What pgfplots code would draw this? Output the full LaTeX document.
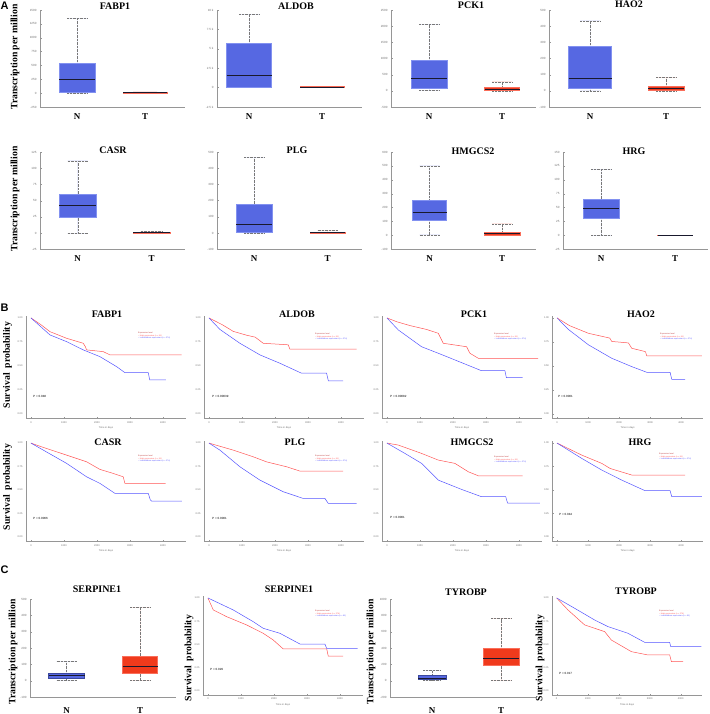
\documentclass[border=0pt]{standalone}
\usepackage{fontspec}
\setmainfont{Liberation Serif}
\setsansfont{Liberation Sans}
\usepackage{pgfplots}
\pgfplotsset{compat=1.18}
\usepgfplotslibrary{statistics}
\definecolor{boxblue}{RGB}{86,104,226}
\definecolor{boxblueedge}{RGB}{130,145,240}
\definecolor{boxred}{RGB}{240,58,28}
\definecolor{boxrededge}{RGB}{250,110,90}
\definecolor{medcol}{RGB}{25,25,45}
\definecolor{whisk}{RGB}{120,120,120}
\definecolor{axgray}{RGB}{150,150,150}
\definecolor{tickgray}{RGB}{110,110,110}
\definecolor{kmred}{RGB}{255,85,85}
\definecolor{kmblue}{RGB}{85,85,255}
\pgfplotsset{
  bp/.style={scale only axis, clip=false,
    axis x line*=bottom, axis y line*=left,
    axis line style={draw=axgray, line width=0.5pt},
    xmin=0, height=97pt, scaled y ticks=false, scaled x ticks=false,
    major tick length=1.5pt,
    ytick style={draw=axgray, line width=0.3pt},
    xtick style={draw=none},
    y tick label style={font=\sffamily\fontsize{3}{3}\selectfont, text=tickgray},
    x tick label style={font=\rmfamily\bfseries\fontsize{9}{9}\selectfont, yshift=-3pt},
    boxplot/draw direction=y,
    boxplot/every median/.style={draw=medcol, line width=0.9pt},
    boxplot/every whisker/.style={draw=whisk, line width=0.4pt, densely dotted},
  },
  bN/.style={fill=boxblue, draw=boxblueedge, line width=0.4pt},
  bT/.style={fill=boxred, draw=boxrededge, line width=0.4pt},
  km/.style={scale only axis, clip=false,
    axis x line*=bottom, axis y line*=left,
    axis line style={draw=axgray, line width=0.4pt},
    xmin=-150, xmax=4700, ymin=-0.04, ymax=1.02,
    scaled y ticks=false, scaled x ticks=false,
    xtick={0,1000,2000,3000,4000}, xticklabels={0,1000,2000,3000,4000},
    ytick={0,0.25,0.5,0.75,1}, yticklabels={0.00,0.25,0.50,0.75,1.00},
    tick label style={font=\sffamily\fontsize{2.5}{2.5}\selectfont, text=tickgray},
    major tick length=1.2pt, tick style={draw=axgray, line width=0.3pt},
    xlabel={Time in days},
    xlabel style={font=\sffamily\fontsize{2.5}{2.5}\selectfont, text=tickgray, yshift=3pt},
  },
  kr/.style={draw=kmred, line width=0.5pt, mark=none},
  kb/.style={draw=kmblue, line width=0.5pt, mark=none},
}
\newcommand\ttl[3]{\node[font=\rmfamily\bfseries\fontsize{10}{10}\selectfont, inner sep=0] at (#1pt,-#2pt) {#3};}
\newcommand\pval[3]{\node[anchor=west, font=\sffamily\fontsize{3}{3}\selectfont, inner sep=0] at (#1pt,-#2pt) {\textit{P} = #3};}
\newcommand\kmleg[4]{\node[anchor=north west, font=\sffamily\fontsize{2}{2.6}\selectfont, align=left, inner sep=0] at (#1pt,-#2pt) {\textcolor{kmred!75!black}{Expression level}\\ \textcolor{kmred}{-- High expression (n = #3)}\\ \textcolor{kmblue}{-- Low/Medium expression (n = #4)}};}
\newcommand\ylab[3]{\node[rotate=90, font=\rmfamily\bfseries\fontsize{9.7}{9.7}\selectfont, inner sep=0] at (#1pt,-#2pt) {#3};}
\begin{document}
\begin{tikzpicture}
\useasboundingbox (0,0) rectangle (709pt,-714pt);
% ================= Panel A, row 1 =================
\begin{axis}[bp, at={(40pt,-107pt)}, anchor=south west, width=145pt, xmax=145,
  ymin=-250, ymax=1500, ytick={-250,0,250,500,750,1000,1250,1500},
  yticklabels={-250,0,250,500,750,1000,1250,1500}, xtick={37,105}, xticklabels={N,T}]
\addplot[bN, boxplot prepared={lower whisker=0, lower quartile=15, median=239, upper quartile=543, upper whisker=1352, draw position=37, box extend=36, whisker extend=20}] coordinates {};
\addplot[bT, boxplot prepared={lower whisker=0, lower quartile=2, median=8, upper quartile=14, upper whisker=25, draw position=105, box extend=44, whisker extend=24}] coordinates {};
\end{axis}
\begin{axis}[bp, at={(217pt,-107pt)}, anchor=south west, width=145pt, xmax=145,
  ymin=-2500, ymax=10000, ytick={-2500,0,2500,5000,7500,10000},
  yticklabels={-2.5 k,0,2.5 k,5 k,7.5 k,10 k}, xtick={32,105}, xticklabels={N,T}]
\addplot[bN, boxplot prepared={lower whisker=0, lower quartile=60, median=1624, upper quartile=5709, upper whisker=9446, draw position=32, box extend=45, whisker extend=20}] coordinates {};
\addplot[bT, boxplot prepared={lower whisker=0, lower quartile=30, median=80, upper quartile=130, upper whisker=200, draw position=105, box extend=44, whisker extend=22}] coordinates {};
\end{axis}
\begin{axis}[bp, at={(391pt,-107pt)}, anchor=south west, width=145pt, xmax=145,
  ymin=-500, ymax=2500, ytick={-500,0,500,1000,1500,2000,2500},
  yticklabels={-500,0,500,1000,1500,2000,2500}, xtick={38,111}, xticklabels={N,T}]
\addplot[bN, boxplot prepared={lower whisker=10, lower quartile=77, median=386, upper quartile=952, upper whisker=2066, draw position=38, box extend=36, whisker extend=20}] coordinates {};
\addplot[bT, boxplot prepared={lower whisker=0, lower quartile=5, median=46, upper quartile=108, upper whisker=281, draw position=111, box extend=35, whisker extend=20}] coordinates {};
\end{axis}
\begin{axis}[bp, at={(549pt,-107pt)}, anchor=south west, width=152pt, xmax=152,
  ymin=-100, ymax=500, ytick={-100,0,100,200,300,400,500},
  yticklabels={-100,0,100,200,300,400,500}, xtick={41,117}, xticklabels={N,T}]
\addplot[bN, boxplot prepared={lower whisker=0, lower quartile=15, median=77, upper quartile=277, upper whisker=432, draw position=41, box extend=43, whisker extend=20}] coordinates {};
\addplot[bT, boxplot prepared={lower whisker=0, lower quartile=5, median=15, upper quartile=30, upper whisker=83, draw position=117, box extend=36, whisker extend=20}] coordinates {};
\end{axis}
% ================= Panel A, row 2 =================
\begin{axis}[bp, at={(40pt,-249.3pt)}, anchor=south west, width=145pt, xmax=145, height=97.3pt,
  ymin=-25, ymax=125, ytick={-25,0,25,50,75,100,125},
  yticklabels={-25,0,25,50,75,100,125}, xtick={37.7,111.7}, xticklabels={N,T}]
\addplot[bN, boxplot prepared={lower whisker=0, lower quartile=24, median=41.9, upper quartile=60.5, upper whisker=111.5, draw position=37.7, box extend=37, whisker extend=20}] coordinates {};
\addplot[bT, boxplot prepared={lower whisker=0, lower quartile=0.3, median=1, upper quartile=1.6, upper whisker=3, draw position=111.7, box extend=37, whisker extend=22}] coordinates {};
\end{axis}
\begin{axis}[bp, at={(217pt,-249.3pt)}, anchor=south west, width=145pt, xmax=145, height=97.3pt,
  ymin=-100, ymax=500, ytick={-100,0,100,200,300,400,500},
  yticklabels={-100,0,100,200,300,400,500}, xtick={37,110.5}, xticklabels={N,T}]
\addplot[bN, boxplot prepared={lower whisker=0, lower quartile=4, median=54, upper quartile=181, upper whisker=469, draw position=37, box extend=36, whisker extend=20}] coordinates {};
\addplot[bT, boxplot prepared={lower whisker=0, lower quartile=0.5, median=2, upper quartile=5, upper whisker=17, draw position=110.5, box extend=35, whisker extend=20}] coordinates {};
\end{axis}
\begin{axis}[bp, at={(391pt,-249.3pt)}, anchor=south west, width=145pt, xmax=145, height=97.3pt,
  ymin=-100, ymax=600, ytick={-100,0,100,200,300,400,500,600},
  yticklabels={-100,0,100,200,300,400,500,600}, xtick={38.5,111}, xticklabels={N,T}]
\addplot[bN, boxplot prepared={lower whisker=5, lower quartile=108, median=168, upper quartile=252, upper whisker=500, draw position=38.5, box extend=34, whisker extend=20}] coordinates {};
\addplot[bT, boxplot prepared={lower whisker=0, lower quartile=1, median=12, upper quartile=22, upper whisker=84, draw position=111, box extend=36, whisker extend=20}] coordinates {};
\end{axis}
\begin{axis}[bp, at={(563pt,-249.3pt)}, anchor=south west, width=145pt, xmax=145, height=97.3pt,
  ymin=-25, ymax=150, ytick={-25,0,25,50,75,100,125,150},
  yticklabels={-25,0,25,50,75,100,125,150}, xtick={38,112}, xticklabels={N,T}]
\addplot[bN, boxplot prepared={lower whisker=0, lower quartile=30.6, median=48, upper quartile=66, upper whisker=119.4, draw position=38, box extend=36, whisker extend=20}] coordinates {};
\addplot[bT, boxplot prepared={lower whisker=0, lower quartile=0, median=0.1, upper quartile=0.2, upper whisker=0.3, draw position=112, box extend=35, whisker extend=20}] coordinates {};
\end{axis}
% ================= Panel B, row 1 =================
\begin{axis}[km, at={(26pt,-417.8pt)}, anchor=south west, width=160pt, height=101.8pt]
\addplot[kr] coordinates {(0,1) (300,0.93) (576,0.857) (1081,0.788) (1586,0.736) (1650,0.70) (1687,0.667) (2192,0.649) (2394,0.615) (4566,0.615)};
\addplot[kb] coordinates {(0,1) (576,0.823) (1081,0.753) (1586,0.667) (2091,0.597) (2596,0.493) (2848,0.43) (3556,0.43) (3600,0.354) (4091,0.354)};
\end{axis}
\begin{axis}[km, at={(204pt,-417.8pt)}, anchor=south west, width=160pt, height=101.8pt]
\addplot[kr] coordinates {(0,1) (400,0.93) (737,0.86) (1141,0.82) (1400,0.80) (1646,0.736) (2404,0.72) (2454,0.674) (4475,0.674)};
\addplot[kb] coordinates {(0,1) (333,0.88) (939,0.736) (1545,0.615) (2151,0.528) (2808,0.424) (3566,0.424) (3620,0.344) (4070,0.344)};
\end{axis}
\begin{axis}[km, at={(382pt,-417.8pt)}, anchor=south west, width=160pt, height=101.8pt]
\addplot[kr] coordinates {(0,1) (300,0.96) (700,0.92) (1200,0.88) (1556,0.84) (1707,0.736) (2414,0.70) (2515,0.632) (2768,0.58) (4586,0.58)};
\addplot[kb] coordinates {(0,1) (343,0.875) (1050,0.70) (1556,0.632) (2060,0.5625) (2869,0.45) (3576,0.45) (3620,0.378) (4111,0.378)};
\end{axis}
\begin{axis}[km, at={(552.4pt,-417.8pt)}, anchor=south west, width=150.4pt, height=101.8pt]
\addplot[kr] coordinates {(0,1) (400,0.92) (1011,0.84) (1700,0.79) (1763,0.755) (2300,0.74) (2409,0.684) (2850,0.649) (2893,0.604) (4667,0.604)};
\addplot[kb] coordinates {(0,1) (366,0.88) (1011,0.72) (1763,0.58) (2409,0.493) (2893,0.434) (3645,0.434) (3699,0.361) (4129,0.361)};
\end{axis}
% ================= Panel B, row 2 =================
\begin{axis}[km, at={(26pt,-540.8pt)}, anchor=south west, width=160pt, height=99.6pt]
\addplot[kr] coordinates {(0,1) (374,0.954) (1081,0.872) (1687,0.801) (2091,0.72) (2495,0.677) (2798,0.641) (2848,0.571) (4081,0.571)};
\addplot[kb] coordinates {(0,1) (500,0.9) (1081,0.784) (1687,0.641) (2091,0.571) (2545,0.465) (3556,0.465) (3620,0.394) (3657,0.383) (4576,0.383)};
\end{axis}
\begin{axis}[km, at={(204pt,-540.8pt)}, anchor=south west, width=160pt, height=99.6pt]
\addplot[kr] coordinates {(0,1) (737,0.925) (1343,0.854) (1747,0.80) (2353,0.748) (2757,0.702) (4070,0.702)};
\addplot[kb] coordinates {(0,1) (333,0.925) (939,0.748) (1545,0.606) (2252,0.482) (2858,0.411) (3515,0.411) (3616,0.358) (4475,0.358)};
\end{axis}
\begin{axis}[km, at={(382pt,-540.8pt)}, anchor=south west, width=160pt, height=99.6pt]
\addplot[kr] coordinates {(0,1) (343,0.979) (1050,0.89) (1556,0.819) (2060,0.784) (2465,0.695) (2768,0.652) (4111,0.652)};
\addplot[kb] coordinates {(0,1) (545,0.89) (1050,0.784) (1556,0.606) (2262,0.507) (2869,0.429) (3600,0.429) (3657,0.36) (4636,0.36)};
\end{axis}
\begin{axis}[km, at={(552.4pt,-540.8pt)}, anchor=south west, width=150.4pt, height=99.6pt]
\addplot[kr] coordinates {(0,1) (796,0.872) (1441,0.784) (1710,0.73) (2409,0.66) (4129,0.66)};
\addplot[kb] coordinates {(0,1) (796,0.837) (1441,0.713) (2086,0.606) (2839,0.493) (3645,0.493) (3699,0.429) (4667,0.429)};
\end{axis}
% ================= Panel C =================
\begin{axis}[bp, at={(30pt,-697pt)}, anchor=south west, width=146pt, xmax=146, height=98pt,
  ymin=-100, ymax=500, ytick={-100,0,100,200,300,400,500},
  yticklabels={-100,0,100,200,300,400,500}, xtick={36.5,110}, xticklabels={N,T},
  x tick label style={yshift=-4pt}]
\addplot[fill=boxblue, draw=boxblue!70!black, line width=0.4pt, boxplot prepared={lower whisker=4, lower quartile=17, median=29, upper quartile=47, upper whisker=118, draw position=36.5, box extend=36, whisker extend=20}] coordinates {};
\addplot[bT, boxplot prepared={lower whisker=4, lower quartile=43, median=88, upper quartile=152, upper whisker=450, draw position=110, box extend=35, whisker extend=20}] coordinates {};
\end{axis}
\begin{axis}[km, at={(203pt,-694.7pt)}, anchor=south west, width=160pt, height=98.6pt]
\addplot[kr] coordinates {(0,1) (162,0.871) (566,0.799) (1172,0.71) (1676,0.62) (1979,0.548) (2282,0.452) (3600,0.452) (3646,0.376) (4101,0.376)};
\addplot[kb] coordinates {(0,1) (767,0.871) (1373,0.745) (1676,0.674) (2182,0.62) (2788,0.505) (3545,0.505) (3597,0.459) (4540,0.459)};
\end{axis}
\begin{axis}[bp, at={(390pt,-697pt)}, anchor=south west, width=146pt, xmax=146, height=98pt,
  ymin=-200, ymax=1000, ytick={-200,0,200,400,600,800,1000},
  yticklabels={-200,0,200,400,600,800,1000}, xtick={42,111}, xticklabels={N,T},
  x tick label style={yshift=-4pt}]
\addplot[fill=boxblue, draw=boxblue!70!black, line width=0.4pt, boxplot prepared={lower whisker=4, lower quartile=12, median=32, upper quartile=65, upper whisker=123, draw position=42, box extend=28, whisker extend=18}] coordinates {};
\addplot[bT, boxplot prepared={lower whisker=4, lower quartile=184, median=277, upper quartile=400, upper whisker=761, draw position=111, box extend=36, whisker extend=20}] coordinates {};
\end{axis}
\begin{axis}[km, at={(552pt,-694.7pt)}, anchor=south west, width=150.4pt, height=98.6pt]
\addplot[kr] coordinates {(0,1) (366,0.871) (903,0.71) (1548,0.638) (1763,0.548) (2409,0.423) (2946,0.387) (3645,0.387) (3699,0.315) (4075,0.315)};
\addplot[kb] coordinates {(0,1) (581,0.889) (1226,0.763) (1655,0.692) (2300,0.62) (2839,0.523) (3645,0.523) (3680,0.476) (4667,0.476)};
\end{axis}
% ================= Text =================
\node[anchor=north west, font=\sffamily\bfseries\fontsize{11}{11}\selectfont, inner sep=0] at (0.5pt,-1.5pt) {A};
\node[anchor=north west, font=\sffamily\bfseries\fontsize{11}{11}\selectfont, inner sep=0] at (0.5pt,-304pt) {B};
\node[anchor=north west, font=\sffamily\bfseries\fontsize{11}{11}\selectfont, inner sep=0] at (0.5pt,-566pt) {C};
\ttl{115}{6}{FABP1}\ttl{296}{6}{ALDOB}\ttl{471}{5}{PCK1}\ttl{629}{4}{HAO2}
\ttl{113}{150}{CASR}\ttl{297}{150}{PLG}\ttl{473}{151}{HMGCS2}\ttl{634}{151}{HRG}
\ttl{107}{314}{FABP1}\ttl{297}{314}{ALDOB}\ttl{474}{314}{PCK1}\ttl{641}{314}{HAO2}
\ttl{108}{442}{CASR}\ttl{295}{442}{PLG}\ttl{472}{442}{HMGCS2}\ttl{640}{442}{HRG}
\ttl{97}{589}{SERPINE1}\ttl{289}{589}{SERPINE1}\ttl{466}{592}{TYROBP}\ttl{636}{591}{TYROBP}
\ylab{15}{57}{Transcription per million}
\ylab{15}{199}{Transcription per million}
\ylab{7.5}{365}{Survival\ \ probability}
\ylab{7.5}{487}{Survival\ \ probability}
\ylab{13}{652}{Transcription per million}
\ylab{371}{652}{Transcription per million}
\ylab{189}{658}{Survival\ \ probability}
\ylab{540}{658}{Survival\ \ probability}
\pval{33}{396}{0.048}\pval{212}{396}{0.00039}\pval{390}{396}{0.00082}\pval{558}{396}{0.0001}
\pval{33}{518}{0.0066}\pval{212}{518}{0.0001}\pval{390}{517}{0.0001}\pval{559}{514}{0.044}
\pval{210}{669}{0.029}\pval{559}{673}{0.017}
\kmleg{138}{332}{91}{274}\kmleg{315}{333}{91}{274}\kmleg{494}{333}{91}{274}\kmleg{660}{333}{91}{274}
\kmleg{138}{455}{91}{274}\kmleg{315}{455}{91}{274}\kmleg{494}{456}{91}{274}\kmleg{659}{453}{91}{274}
\kmleg{315}{610}{274}{91}\kmleg{659}{610}{274}{91}
\end{tikzpicture}
\end{document}
